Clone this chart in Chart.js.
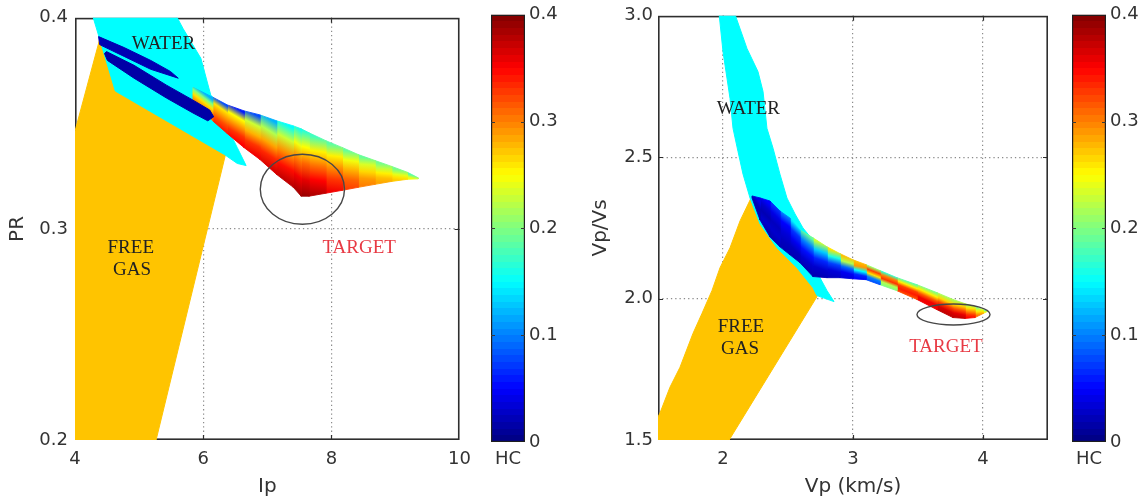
<!DOCTYPE html>
<html>
<head>
<meta charset="utf-8">
<title>HC templates: Ip–PR and Vp–Vp/Vs</title>
<script src="https://cdn.jsdelivr.net/npm/chart.js@4.4.1/dist/chart.umd.min.js"></script>
<style>
  html, body { margin: 0; padding: 0; background: #ffffff; }
  #figure { position: relative; width: 1144px; height: 501px; overflow: hidden; background: #ffffff; }
  #figure canvas { position: absolute; top: 0; }
</style>
</head>
<body>
<div id="figure">
  <canvas id="ipChart" width="480" height="501" style="left:0px;width:480px;height:501px"></canvas>
  <canvas id="ipScale" width="110" height="501" style="left:470px;width:110px;height:501px"></canvas>
  <canvas id="vpChart" width="480" height="501" style="left:575px;width:480px;height:501px"></canvas>
  <canvas id="vpScale" width="94" height="501" style="left:1050px;width:94px;height:501px"></canvas>
</div>
<script>
// ---------------- HC colour scale ----------------
const hcMin = 0;
const hcMax = 0.4;
const hcTicks = [0, 0.1, 0.2, 0.3, 0.4];
const hcTickLabels = ['0', '0.1', '0.2', '0.3', '0.4'];
const hcAxisLabel = ['HC'];

// ---------------- Panel 1: Ip vs PR ----------------
const ipTicks = [4, 6, 8, 10];
const ipTickLabels = ['4', '6', '8', '10'];
const prTicks = [0.2, 0.3, 0.4];
const prTickLabels = ['0.2', '0.3', '0.4'];

// water-saturated zone outline
const waterIp = [4.276, 5.580, 5.688, 5.964, 6.118, 6.256, 6.455, 6.532, 6.670, 6.532, 6.332, 4.629];
const waterPR = [0.4009, 0.4009, 0.3948, 0.3808, 0.3634, 0.3587, 0.3432, 0.3385, 0.3300, 0.3310, 0.3352, 0.3653];

// free-gas zone outline
const gasIp = [4.384, 3.985, 3.985, 5.258, 6.348, 4.660];
const gasPR = [0.3897, 0.3446, 0.1991, 0.1991, 0.3352, 0.3662];

// hydrocarbon band: station positions with upper and lower PR edges
const hcIp = [5.841, 6.148, 6.378, 6.639, 6.885, 7.146, 7.407, 7.529, 7.652, 7.913, 8.174, 8.419, 8.680, 8.941, 9.187, 9.355];
const hcTopPR = [0.3671, 0.3624, 0.3587, 0.3559, 0.3540, 0.3512, 0.3488, 0.3474, 0.3455, 0.3418, 0.3385, 0.3352, 0.3324, 0.3296, 0.3268, 0.3242];
const hcBasePR = [0.3610, 0.3512, 0.3451, 0.3385, 0.3329, 0.3258, 0.3197, 0.3155, 0.3155, 0.3169, 0.3183, 0.3197, 0.3211, 0.3225, 0.3235, 0.3237];
// HC across each band column, upper edge -> lower edge
const hcCellsIp = [
  [0.12, 0.20, 0.26, 0.29, 0.31],
  [0.08, 0.26, 0.29, 0.32, 0.34],
  [0.06, 0.25, 0.29, 0.33, 0.35],
  [0.08, 0.23, 0.28, 0.33, 0.355],
  [0.12, 0.22, 0.285, 0.335, 0.365],
  [0.15, 0.23, 0.295, 0.345, 0.375],
  [0.16, 0.245, 0.305, 0.355, 0.385],
  [0.165, 0.25, 0.31, 0.36, 0.39],
  [0.175, 0.255, 0.305, 0.35, 0.38],
  [0.185, 0.255, 0.295, 0.33, 0.355],
  [0.19, 0.245, 0.28, 0.31, 0.325],
  [0.19, 0.235, 0.265, 0.29, 0.30],
  [0.195, 0.225, 0.255, 0.275, 0.285],
  [0.195, 0.215, 0.24, 0.26, 0.27],
  [0.185, 0.20, 0.22, 0.235, 0.245]
];

// low-HC streaks at the shallow end
const streakUpperIp = [4.368, 4.767, 5.182, 5.488, 5.611, 5.182, 4.767, 4.384];
const streakUpperPR = [0.3911, 0.3859, 0.3798, 0.3746, 0.3714, 0.3756, 0.3817, 0.3873];
const streakUpperHC = 0.02;
const streakLowerIp = [4.460, 4.491, 4.921, 5.427, 5.841, 6.102, 6.164, 6.072, 5.841, 5.427, 4.921, 4.506];
const streakLowerPR = [0.3831, 0.3840, 0.3775, 0.3681, 0.3610, 0.3563, 0.3531, 0.3512, 0.3549, 0.3620, 0.3714, 0.3798];
const streakLowerHC = 0.015;

// target ellipse and zone names
const targetIp = 7.548, targetPR = 0.3188, targetIpRadius = 0.657, targetPRRadius = 0.01657;
const noteText = ['WATER', 'FREE', 'GAS', 'TARGET'];
const noteIp = [5.381, 4.870, 4.890, 8.435];
const notePR = [0.3878, 0.2908, 0.2803, 0.2911];

// ---------------- Panel 2: Vp vs Vp/Vs ----------------
const vpTicks = [2, 3, 4];
const vpTickLabels = ['2', '3', '4'];
const ratioTicks = [1.5, 2.0, 2.5, 3.0];
const ratioTickLabels = ['1.5', '2.0', '2.5', '3.0'];

const waterVp = [1.969, 2.088, 2.185, 2.269, 2.308, 2.338, 2.385, 2.438, 2.492, 2.554, 2.615, 2.708, 2.762, 2.746, 2.800, 2.854, 2.723, 2.692, 2.569, 2.415, 2.285, 2.208, 2.154, 2.115, 2.077, 2.054, 2.000];
const waterRatio = [3.0106, 3.0106, 2.8838, 2.8028, 2.7324, 2.6021, 2.5317, 2.4401, 2.3556, 2.2993, 2.2500, 2.1972, 2.1268, 2.0739, 2.0282, 1.9894, 2.0106, 2.0387, 2.1092, 2.1796, 2.2641, 2.3556, 2.4401, 2.5211, 2.6021, 2.7077, 2.8732];

const gasVp = [2.223, 2.131, 2.054, 1.977, 1.915, 1.838, 1.769, 1.669, 1.592, 1.515, 1.485, 1.485, 2.038, 2.723, 2.723, 2.600, 2.446, 2.315];
const gasRatio = [2.3627, 2.2746, 2.1796, 2.1092, 2.0282, 1.9472, 1.8768, 1.7570, 1.6866, 1.5951, 1.5669, 1.4930, 1.4930, 2.0070, 2.0387, 2.1162, 2.1866, 2.2711];

const hcVp = [2.223, 2.285, 2.362, 2.438, 2.515, 2.592, 2.692, 2.800, 2.900, 3.000, 3.100, 3.208, 3.338, 3.492, 3.646, 3.769, 3.862, 3.938, 4.000, 4.031];
const hcTopRatio = [2.363, 2.356, 2.345, 2.310, 2.285, 2.243, 2.215, 2.183, 2.159, 2.137, 2.120, 2.099, 2.074, 2.049, 2.021, 1.997, 1.982, 1.972, 1.961, 1.956];
const hcBaseRatio = [2.356, 2.278, 2.218, 2.183, 2.155, 2.127, 2.078, 2.074, 2.074, 2.070, 2.067, 2.049, 2.028, 1.997, 1.961, 1.933, 1.930, 1.933, 1.947, 1.954];
const hcCellsVp = [
  [0.04, 0.03, 0.02, 0.02, 0.02],
  [0.05, 0.03, 0.02, 0.03, 0.02],
  [0.07, 0.04, 0.025, 0.03, 0.02],
  [0.10, 0.05, 0.035, 0.025, 0.02],
  [0.14, 0.07, 0.045, 0.025, 0.02],
  [0.19, 0.10, 0.055, 0.03, 0.02],
  [0.23, 0.13, 0.065, 0.03, 0.02],
  [0.26, 0.16, 0.075, 0.035, 0.025],
  [0.275, 0.22, 0.09, 0.045, 0.035],
  [0.275, 0.29, 0.15, 0.065, 0.05],
  [0.21, 0.325, 0.26, 0.10, 0.08],
  [0.17, 0.30, 0.33, 0.22, 0.20],
  [0.185, 0.255, 0.325, 0.34, 0.32],
  [0.20, 0.255, 0.315, 0.355, 0.355],
  [0.215, 0.265, 0.325, 0.365, 0.375],
  [0.22, 0.27, 0.32, 0.36, 0.375],
  [0.215, 0.26, 0.295, 0.33, 0.35],
  [0.205, 0.235, 0.26, 0.285, 0.305],
  [0.195, 0.21, 0.225, 0.24, 0.255]
];

const targetVp = 3.773, targetRatio = 1.9437, targetVpRadius = 0.281, targetRatioRadius = 0.037;
const noteVp = [2.195, 2.138, 2.131, 3.715];
const noteRatio = [2.6715, 1.8989, 1.8229, 1.8285];

// ---------------- styling ----------------
const INK = '#333333';
const FRAME = '#2e2e2e';
const GRID_DOT = '#8c8c8c';
const WATER_FILL = '#00ffff';
const GAS_FILL = '#ffc400';
const NOTE_COLORS = ['#222222', '#222222', '#222222', 'rgb(232,58,68)'];

Chart.defaults.font.family = '"DejaVu Sans", "Liberation Sans", sans-serif';
Chart.defaults.color = INK;

// MATLAB-style jet colour map over the HC range
function jet(hc) {
  const t = Math.min(1, Math.max(0, (hc - hcMin) / (hcMax - hcMin)));
  const ch = v => Math.round(255 * Math.min(1, Math.max(0, v)));
  return 'rgb(' + ch(1.5 - Math.abs(4 * t - 3)) + ',' + ch(1.5 - Math.abs(4 * t - 2)) + ',' + ch(1.5 - Math.abs(4 * t - 1)) + ')';
}

// gradient across one band column, running normal to the column's mean direction
function columnFill(chart, xs, tops, bases, cells, i) {
  const area = chart.chartArea;
  if (!area) return jet(cells[i][2]);
  const sx = chart.scales.x, sy = chart.scales.y;
  const x0 = sx.getPixelForValue(xs[i]), x1 = sx.getPixelForValue(xs[i + 1]);
  const t0 = sy.getPixelForValue(tops[i]), t1 = sy.getPixelForValue(tops[i + 1]);
  const b0 = sy.getPixelForValue(bases[i]), b1 = sy.getPixelForValue(bases[i + 1]);
  const dx = x1 - x0, dy = ((t1 - t0) + (b1 - b0)) / 2;
  const len = Math.hypot(dx, dy) || 1;
  const nx = -dy / len, ny = dx / len;
  const tx = (x0 + x1) / 2, ty = (t0 + t1) / 2, by = (b0 + b1) / 2;
  const depth = Math.max(0.5, (by - ty) * ny);
  const g = chart.ctx.createLinearGradient(tx, ty, tx + nx * depth, ty + ny * depth);
  const n = cells[i].length;
  cells[i].forEach((hc, k) => g.addColorStop(k / (n - 1), jet(hc)));
  return g;
}

function polygonDataset(xs, ys, color, order) {
  const pts = xs.map((v, i) => ({ x: v, y: ys[i] }));
  pts.push({ x: xs[0], y: ys[0] });
  return {
    data: pts, showLine: true, fill: 'shape', order,
    backgroundColor: color, borderColor: color, borderWidth: 1,
    pointRadius: 0, pointHoverRadius: 0
  };
}

function bandDatasets(xs, tops, bases, cells, order) {
  const out = [];
  for (let i = 0; i < xs.length - 1; i++) {
    const pts = [
      { x: xs[i], y: tops[i] }, { x: xs[i + 1], y: tops[i + 1] },
      { x: xs[i + 1], y: bases[i + 1] }, { x: xs[i], y: bases[i] },
      { x: xs[i], y: tops[i] }
    ];
    const paint = c => columnFill(c.chart, xs, tops, bases, cells, i);
    out.push({
      data: pts, showLine: true, fill: 'shape', order,
      backgroundColor: paint, borderColor: paint, borderWidth: 0.9,
      pointRadius: 0, pointHoverRadius: 0
    });
  }
  return out;
}

function fixedTicks(values) {
  return scale => { scale.ticks = values.map(v => ({ value: v })); };
}

function interiorGrid(min, max) {
  return c => (c.tick && c.tick.value > min + 1e-9 && c.tick.value < max - 1e-9) ? GRID_DOT : 'rgba(0,0,0,0)';
}

// axes box with inward tick marks, drawn beneath the zones
const frameAndTicks = {
  id: 'frameAndTicks',
  beforeDatasetsDraw(chart) {
    const { ctx, chartArea: a, scales: { x, y } } = chart;
    ctx.save();
    ctx.strokeStyle = FRAME;
    ctx.lineWidth = 1.6;
    ctx.strokeRect(a.left + 0.8, a.top + 0.8, a.right - a.left - 1.6, a.bottom - a.top - 1.6);
    ctx.lineWidth = 1.2;
    ctx.beginPath();
    const L = 5;
    x.ticks.forEach(t => {
      if (t.value <= x.min || t.value >= x.max) return;
      const px = Math.round(x.getPixelForValue(t.value)) + 0.5;
      ctx.moveTo(px, a.bottom); ctx.lineTo(px, a.bottom - L);
      ctx.moveTo(px, a.top); ctx.lineTo(px, a.top + L);
    });
    y.ticks.forEach(t => {
      if (t.value <= y.min || t.value >= y.max) return;
      const py = Math.round(y.getPixelForValue(t.value)) + 0.5;
      ctx.moveTo(a.left, py); ctx.lineTo(a.left + L, py);
      ctx.moveTo(a.right, py); ctx.lineTo(a.right - L, py);
    });
    ctx.stroke();
    ctx.restore();
  }
};

// target ellipse and zone names
function notesPlugin(n) {
  return {
    id: 'zoneNotes',
    afterDatasetsDraw(chart) {
      const { ctx, scales: { x, y } } = chart;
      ctx.save();
      const cx = x.getPixelForValue(n.cx), cy = y.getPixelForValue(n.cy);
      const rx = Math.abs(x.getPixelForValue(n.cx + n.rx) - cx);
      const ry = Math.abs(y.getPixelForValue(n.cy + n.ry) - cy);
      ctx.beginPath();
      ctx.ellipse(cx, cy, rx, ry, 0, 0, Math.PI * 2);
      ctx.strokeStyle = '#474747';
      ctx.lineWidth = 1.4;
      ctx.stroke();
      ctx.font = '19px "Liberation Serif", "Times New Roman", serif';
      ctx.textAlign = 'center';
      ctx.textBaseline = 'middle';
      n.text.forEach((t, i) => {
        ctx.fillStyle = NOTE_COLORS[i];
        ctx.fillText(t, x.getPixelForValue(n.x[i]), y.getPixelForValue(n.y[i]));
      });
      ctx.restore();
    }
  };
}

function panelAxis(cfg) {
  const horizontal = cfg.horizontal;
  return {
    type: 'linear', min: cfg.min, max: cfg.max,
    afterBuildTicks: fixedTicks(cfg.ticks),
    afterFit: horizontal ? (s => { s.height = cfg.size; }) : (s => { s.width = cfg.size; }),
    grid: { color: interiorGrid(cfg.min, cfg.max), lineWidth: 1.2, drawTicks: false },
    border: { display: false, dash: [1.3, 3] },
    ticks: {
      padding: cfg.tickPad, autoSkip: false, maxRotation: 0, color: INK,
      font: { size: 18, lineHeight: 1.2 },
      callback: (v, i) => cfg.labels[i]
    },
    title: {
      display: true, text: cfg.title, color: INK,
      font: { size: 20, lineHeight: 1.2 },
      padding: horizontal ? { top: 0, bottom: 2 } : { top: cfg.titlePad, bottom: 0 }
    }
  };
}

function makePanel(id, datasets, xAxis, yAxis, padding, notes) {
  return new Chart(document.getElementById(id), {
    type: 'scatter',
    data: { datasets },
    options: {
      responsive: false, animation: false, devicePixelRatio: 1, events: [],
      layout: { padding },
      plugins: { legend: { display: false }, tooltip: { enabled: false } },
      scales: { x: xAxis, y: yAxis }
    },
    plugins: [frameAndTicks, notesPlugin(notes)]
  });
}

// colour bar: stepped jet gradient filling a floating bar from hcMin to hcMax
function colourBarFill(chart) {
  const a = chart.chartArea;
  if (!a) return jet((hcMin + hcMax) / 2);
  const g = chart.ctx.createLinearGradient(0, a.bottom, 0, a.top);
  const steps = 64;
  for (let k = 0; k < steps; k++) {
    const c = jet(hcMin + (hcMax - hcMin) * (k + 0.5) / steps);
    g.addColorStop(k / steps, c);
    g.addColorStop((k + 1) / steps, c);
  }
  return g;
}

const colourBarOutline = {
  id: 'colourBarOutline',
  afterDatasetsDraw(chart) {
    const { ctx, chartArea: a, scales: { y } } = chart;
    ctx.save();
    ctx.strokeStyle = '#1f1f1f';
    ctx.lineWidth = 1.2;
    ctx.strokeRect(a.left + 0.6, a.top + 0.6, a.right - a.left - 1.2, a.bottom - a.top - 1.2);
    ctx.strokeStyle = '#3a3a3a';
    ctx.beginPath();
    y.ticks.forEach(t => {
      if (t.value <= y.min || t.value >= y.max) return;
      const py = Math.round(y.getPixelForValue(t.value)) + 0.5;
      ctx.moveTo(a.left, py); ctx.lineTo(a.left + 4, py);
      ctx.moveTo(a.right, py); ctx.lineTo(a.right - 4, py);
    });
    ctx.stroke();
    ctx.restore();
  }
};

function makeColourBar(id, leftPad, axisWidth) {
  return new Chart(document.getElementById(id), {
    type: 'bar',
    data: {
      labels: hcAxisLabel,
      datasets: [{
        data: [[hcMin, hcMax]],
        backgroundColor: c => colourBarFill(c.chart),
        borderWidth: 0, borderSkipped: false,
        barPercentage: 1, categoryPercentage: 1
      }]
    },
    options: {
      responsive: false, animation: false, devicePixelRatio: 1, events: [],
      layout: { padding: { left: leftPad, top: 14, right: 0, bottom: 0 } },
      plugins: { legend: { display: false }, tooltip: { enabled: false } },
      scales: {
        x: {
          type: 'category',
          afterFit: s => { s.height = 59; },
          grid: { display: false, drawTicks: false },
          border: { display: false },
          ticks: { padding: 7, color: INK, font: { size: 18, lineHeight: 1.2 } }
        },
        y: {
          type: 'linear', position: 'right', min: hcMin, max: hcMax,
          afterBuildTicks: fixedTicks(hcTicks),
          afterFit: s => { s.width = axisWidth; },
          grid: { display: false, drawTicks: false },
          border: { display: false },
          ticks: { padding: 4, color: INK, font: { size: 18, lineHeight: 1.2 }, callback: (v, i) => hcTickLabels[i] }
        }
      }
    },
    plugins: [colourBarOutline]
  });
}

// ---------------- build panel 1 ----------------
makePanel('ipChart',
  [
    polygonDataset(gasIp, gasPR, GAS_FILL, 10),
    polygonDataset(waterIp, waterPR, WATER_FILL, 9),
    ...bandDatasets(hcIp, hcTopPR, hcBasePR, hcCellsIp, 5),
    polygonDataset(streakUpperIp, streakUpperPR, jet(streakUpperHC), 3),
    polygonDataset(streakLowerIp, streakLowerPR, jet(streakLowerHC), 3)
  ],
  panelAxis({ horizontal: true, min: 4, max: 10, ticks: ipTicks, labels: ipTickLabels, size: 61, tickPad: 9, title: 'Ip' }),
  panelAxis({ horizontal: false, min: 0.2, max: 0.4, ticks: prTicks, labels: prTickLabels, size: 75, tickPad: 7, title: 'PR', titlePad: 6 }),
  { left: 0, top: 14, right: 14, bottom: 0 },
  { cx: targetIp, cy: targetPR, rx: targetIpRadius, ry: targetPRRadius, text: noteText, x: noteIp, y: notePR }
);
makeColourBar('ipScale', 21, 55);

// ---------------- build panel 2 ----------------
makePanel('vpChart',
  [
    polygonDataset(gasVp, gasRatio, GAS_FILL, 10),
    polygonDataset(waterVp, waterRatio, WATER_FILL, 9),
    ...bandDatasets(hcVp, hcTopRatio, hcBaseRatio, hcCellsVp, 5)
  ],
  panelAxis({ horizontal: true, min: 1.5, max: 4.5, ticks: vpTicks, labels: vpTickLabels, size: 61, tickPad: 9, title: 'Vp (km/s)' }),
  panelAxis({ horizontal: false, min: 1.5, max: 3.0, ticks: ratioTicks, labels: ratioTickLabels, size: 83, tickPad: 5, title: 'Vp/Vs', titlePad: 14 }),
  { left: 0, top: 14, right: 7, bottom: 0 },
  { cx: targetVp, cy: targetRatio, rx: targetVpRadius, ry: targetRatioRadius, text: noteText, x: noteVp, y: noteRatio }
);
makeColourBar('vpScale', 22, 38);
</script>
</body>
</html>
